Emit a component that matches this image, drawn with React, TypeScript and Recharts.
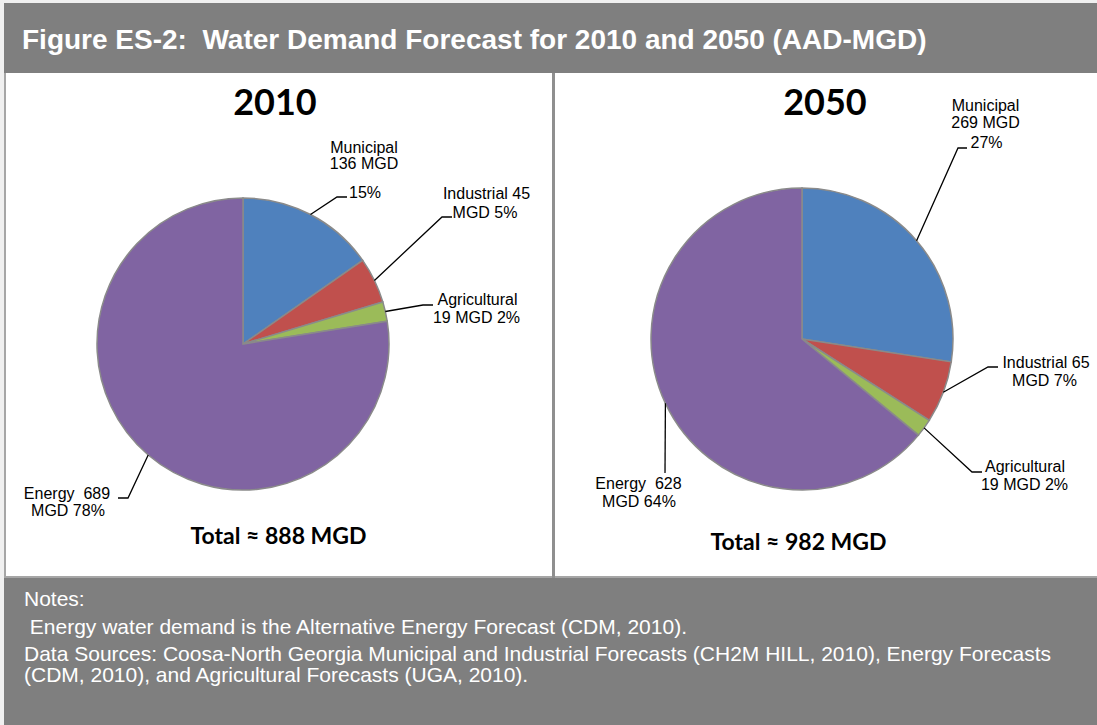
import React from 'react';
import { PieChart, Pie, Cell } from 'recharts';

// ---------- data ----------
const categories = ['Municipal', 'Industrial', 'Agricultural', 'Energy'];
const values2010 = [136, 45, 19, 689];
const values2050 = [269, 65, 19, 628];
const sliceColors = ['#4F81BD', '#C0504D', '#9BBB59', '#8064A2'];
const yearLabels = ['2010', '2050'];
const totalLabels = ['Total ≈ 888 MGD', 'Total ≈ 982 MGD'];
const titleText = 'Figure ES-2:  Water Demand Forecast for 2010 and 2050 (AAD-MGD)';
const noteLines = [
  'Notes:',
  ' Energy water demand is the Alternative Energy Forecast (CDM, 2010).',
  'Data Sources: Coosa-North Georgia Municipal and Industrial Forecasts (CH2M HILL, 2010), Energy Forecasts',
  '(CDM, 2010), and Agricultural Forecasts (UGA, 2010).',
];

// ---------- label layout (offsets from pie centre) ----------
type LabelLayout = { elbow: number[]; end: number[]; text: number[][] };
const layout2010: LabelLayout[] = [
  { elbow: [94, -147], end: [104, -147], text: [[121, -191], [121, -175], [122, -146]] },
  { elbow: [199, -127], end: [209, -127], text: [[243.5, -145], [242, -126]] },
  { elbow: [180, -39], end: [190, -39], text: [[234.5, -39], [233.5, -21]] },
  { elbow: [-115, 154], end: [-125, 154], text: [[-176, 155], [-175, 172]] },
];
const layout2050: LabelLayout[] = [
  { elbow: [156, -191], end: [165, -191], text: [[183.5, -228], [183.5, -211], [184.5, -191]] },
  { elbow: [186, 28], end: [196, 28], text: [[244, 29], [242.5, 47]] },
  { elbow: [170, 133], end: [180, 133], text: [[223, 133], [222.5, 151]] },
  { elbow: [-137, 134], end: [-137, 134], text: [[-163.5, 150], [-163, 168]] },
];

const labelText = (name: string, v: number, p: number): string[] => {
  switch (name) {
    case 'Municipal':
      return [name, `${v} MGD`, `${p}%`];
    case 'Industrial':
      return [`${name} ${v}`, `MGD ${p}%`];
    case 'Agricultural':
      return [name, `${v} MGD ${p}%`];
    default:
      return [`${name}  ${v}`, `MGD ${p}%`];
  }
};

const ARIAL = '"Liberation Sans", Arial, sans-serif';
const CALIBRI = 'Lato, "Open Sans", sans-serif';

const makeLabel = (layout: LabelLayout[]) => (props: any) => {
  const { cx, cy, midAngle, outerRadius, index, value, percent } = props;
  const RAD = Math.PI / 180;
  const sx = cx + outerRadius * Math.cos(-midAngle * RAD);
  const sy = cy + outerRadius * Math.sin(-midAngle * RAD);
  const L = layout[index];
  const pts = [
    [sx, sy],
    [cx + L.elbow[0], cy + L.elbow[1]],
    [cx + L.end[0], cy + L.end[1]],
  ]
    .map((p) => p.join(','))
    .join(' ');
  const lines = labelText(categories[index], value, Math.round(percent * 100));
  return (
    <g key={`lab-${index}`}>
      <polyline points={pts} fill="none" stroke="#000" strokeWidth={1.3} />
      {lines.map((t, i) => (
        <text
          key={i}
          x={cx + L.text[i][0]}
          y={cy + L.text[i][1]}
          textAnchor="middle"
          fontSize={16}
          fontFamily={ARIAL}
          fill="#000"
          style={{ whiteSpace: 'pre' }}
        >
          {t}
        </text>
      ))}
    </g>
  );
};

const toData = (vals: number[]) => categories.map((name, i) => ({ name, value: vals[i] }));

const PiePanel = (props: {
  values: number[];
  layout: LabelLayout[];
  left: number;
  width: number;
  cx: number;
  cy: number;
  r: number;
}) => (
  <div style={{ position: 'absolute', left: props.left, top: 73, width: props.width, height: 504 }}>
    <PieChart width={props.width} height={504} margin={{ top: 0, right: 0, bottom: 0, left: 0 }} style={{ overflow: 'visible' }}>
      <Pie
        data={toData(props.values)}
        dataKey="value"
        nameKey="name"
        cx={props.cx}
        cy={props.cy}
        outerRadius={props.r}
        startAngle={90}
        endAngle={-270}
        stroke="#8a8a8a"
        strokeWidth={1.5}
        label={makeLabel(props.layout)}
        labelLine={false}
        isAnimationActive={false}
      >
        {categories.map((c, i) => (
          <Cell key={c} fill={sliceColors[i]} />
        ))}
      </Pie>
    </PieChart>
  </div>
);

export default function App() {
  return (
    <div style={{ position: 'absolute', left: 0, top: 0, width: 1097, height: 725, background: '#f0f0f0', overflow: 'hidden' }}>
      <div style={{ position: 'absolute', left: 4, top: 3, width: 1093, height: 722, background: '#7f7f7f' }} />
      {/* panels */}
      <div style={{ position: 'absolute', left: 4, top: 73, width: 549, height: 505, background: '#a6a6a6' }} />
      <div style={{ position: 'absolute', left: 6, top: 73, width: 546, height: 503, background: '#fff' }} />
      <div style={{ position: 'absolute', left: 552, top: 73, width: 3, height: 505, background: '#8f8f8f' }} />
      <div style={{ position: 'absolute', left: 555, top: 73, width: 542, height: 505, background: '#a6a6a6' }} />
      <div style={{ position: 'absolute', left: 555, top: 73, width: 542, height: 503, background: '#fff' }} />

      <PiePanel values={values2010} layout={layout2010} left={6} width={546} cx={237} cy={271} r={146} />
      <PiePanel values={values2050} layout={layout2050} left={555} width={542} cx={247} cy={266} r={151} />

      <svg width={1097} height={725} style={{ position: 'absolute', left: 0, top: 0, pointerEvents: 'none' }}>
        <text x={22} y={49} fill="#fff" fontFamily={ARIAL} fontWeight="bold" fontSize={28} style={{ whiteSpace: 'pre' }}>
          {titleText}
        </text>
        <text x={275} y={115} textAnchor="middle" fontFamily={CALIBRI} fontWeight="bold" fontSize={36} fill="#000">
          {yearLabels[0]}
        </text>
        <text x={825} y={115} textAnchor="middle" fontFamily={CALIBRI} fontWeight="bold" fontSize={36} fill="#000">
          {yearLabels[1]}
        </text>
        <text x={278.5} y={544} textAnchor="middle" fontFamily={CALIBRI} fontWeight="bold" fontSize={23} fill="#000">
          {totalLabels[0]}
        </text>
        <text x={798.5} y={550} textAnchor="middle" fontFamily={CALIBRI} fontWeight="bold" fontSize={23} fill="#000">
          {totalLabels[1]}
        </text>
        {noteLines.map((t, i) => (
          <text
            key={i}
            x={24}
            y={[606, 634, 661, 682][i]}
            fill="#fff"
            fontFamily={ARIAL}
            fontSize={21}
            style={{ whiteSpace: 'pre' }}
          >
            {t}
          </text>
        ))}
      </svg>
    </div>
  );
}
